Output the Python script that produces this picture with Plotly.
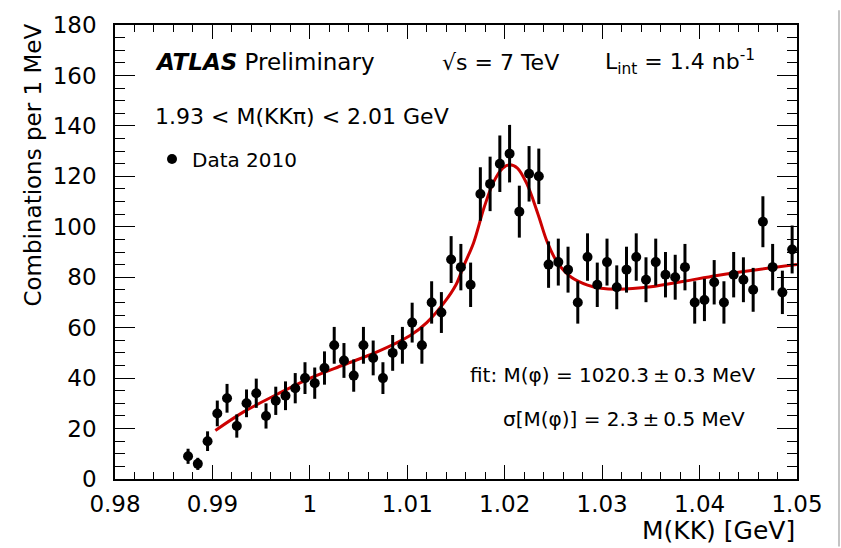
import plotly.graph_objects as go

# ---- data ----
mass_gev = [0.9875, 0.9885, 0.9895, 0.9905, 0.9915, 0.9925, 0.9935, 0.9945, 0.9955, 0.9965,
            0.9975, 0.9985, 0.9995, 1.0005, 1.0015, 1.0025, 1.0035, 1.0045, 1.0055, 1.0065,
            1.0075, 1.0085, 1.0095, 1.0105, 1.0115, 1.0125, 1.0135, 1.0145, 1.0155, 1.0165,
            1.0175, 1.0185, 1.0195, 1.0205, 1.0215, 1.0225, 1.0235, 1.0245, 1.0255, 1.0265,
            1.0275, 1.0285, 1.0295, 1.0305, 1.0315, 1.0325, 1.0335, 1.0345, 1.0355, 1.0365,
            1.0375, 1.0385, 1.0395, 1.0405, 1.0415, 1.0425, 1.0435, 1.0445, 1.0455, 1.0465,
            1.0475, 1.0485, 1.0495]
counts = [9, 6, 15, 26, 32, 21, 30, 34, 25, 31,
          33, 36, 40, 38, 44, 53, 47, 41, 53, 48,
          40, 50, 53, 62, 53, 70, 66, 87, 84, 77,
          113, 117, 125, 129, 106, 121, 120, 85, 86, 83,
          70, 88, 77, 86, 76, 83, 88, 79, 86, 81,
          80, 84, 70, 71, 78, 70, 81, 79, 75, 102,
          84, 74, 91]
count_err = [3.0, 2.4, 3.9, 5.1, 5.7, 4.6, 5.5, 5.8, 5.0, 5.6,
             5.7, 6.0, 6.3, 6.2, 6.6, 7.3, 6.9, 6.4, 7.3, 6.9,
             6.3, 7.1, 7.3, 7.9, 7.3, 8.4, 8.1, 9.3, 9.2, 8.8,
             10.6, 10.8, 11.2, 11.4, 10.3, 11.0, 11.0, 9.2, 9.3, 9.1,
             8.4, 9.4, 8.8, 9.3, 8.7, 9.1, 9.4, 8.9, 9.3, 9.0,
             8.9, 9.2, 8.4, 8.4, 8.8, 8.4, 9.0, 8.9, 8.7, 10.1,
             9.2, 8.6, 9.5]

fit_x = [0.9903, 0.9932, 0.9967, 1.0001, 1.0035, 1.0069, 1.0103, 1.0120, 1.0138, 1.0150,
         1.0158, 1.0168, 1.0179, 1.0189, 1.0198, 1.0205, 1.0213, 1.0223, 1.0234, 1.0244,
         1.0254, 1.0268, 1.0285, 1.0299, 1.0316, 1.0350, 1.0384, 1.0418, 1.0453, 1.0500]
fit_y = [19.2, 26.6, 33.7, 40.1, 45.3, 50.4, 56.9, 62.0, 70.0, 77.0,
         84.6, 93.6, 107.8, 118.1, 123.3, 124.6, 123.3, 116.8, 105.2, 93.6,
         85.9, 80.1, 76.9, 75.6, 75.2, 76.2, 78.4, 80.7, 82.7, 85.0]

x_ticks = [0.98, 0.99, 1.00, 1.01, 1.02, 1.03, 1.04, 1.05]
x_tick_labels = ["0.98", "0.99", "1", "1.01", "1.02", "1.03", "1.04", "1.05"]
y_ticks = [0, 20, 40, 60, 80, 100, 120, 140, 160, 180]

FONT = "DejaVu Sans"
W, H = 841, 548
L, R, T, B = 115, 797, 15, 479


def px(x):
    return (x - L) / (R - L)


def py(y):
    return (B - y) / (B - T)


fig = go.Figure()
fig.add_trace(go.Scatter(
    x=fit_x, y=fit_y, mode="lines", line=dict(color="#cc0000", width=3, shape="spline", smoothing=1.0),
    showlegend=False, hoverinfo="skip"))
fig.add_trace(go.Scatter(
    x=mass_gev, y=counts, mode="markers", name="Data 2010",
    marker=dict(color="black", size=10, symbol="circle"),
    error_y=dict(type="data", array=count_err, visible=True, color="black", thickness=3, width=0)))

axis_common = dict(showgrid=False, zeroline=False, showline=True, linecolor="black", linewidth=1.5,
                   mirror="ticks", ticks="inside", tickcolor="black", tickwidth=1.2,
                   tickfont=dict(family=FONT, size=23, color="black"))

fig.update_xaxes(range=[0.98, 1.05], tickvals=x_ticks, ticktext=x_tick_labels, ticklen=14,
                 ticklabelstandoff=4,
                 minor=dict(dtick=0.002, ticks="inside", ticklen=7, tickcolor="black", tickwidth=1.2),
                 **axis_common)
fig.update_yaxes(range=[0, 180], tickvals=y_ticks, ticklen=20, ticklabelstandoff=12,
                 minor=dict(dtick=5, ticks="inside", ticklen=10, tickcolor="black", tickwidth=1.2),
                 **axis_common)

ann = []


def add_text(text, x, y, size, xanchor="left", yanchor="middle", angle=0):
    ann.append(dict(text=text, x=px(x), y=py(y), xref="paper", yref="paper", showarrow=False,
                    xanchor=xanchor, yanchor=yanchor, textangle=angle,
                    font=dict(family=FONT, size=size, color="black")))


add_text("<b><i>ATLAS</i></b> Preliminary", 153, 53, 23)
add_text("√s = 7 TeV", 440, 53, 22)
add_text("L<sub>int</sub> = 1.4 nb<sup>-1</sup>", 603, 53, 22)
add_text("1.93 &lt; M(KKπ) &lt; 2.01 GeV", 153, 109, 22)
add_text("fit: M(φ) = 1020.3\u2009±\u20090.3 MeV", 758, 373, 20, xanchor="right")
add_text("σ[M(φ)] = 2.3\u2009±\u20090.5 MeV", 747, 418, 20, xanchor="right")
add_text("M(KK) [GeV]", 797, 532, 25, xanchor="right")
add_text("Combinations per 1 MeV", 33, 12, 23, xanchor="center", yanchor="top", angle=-90)

fig.update_layout(
    width=W, height=H,
    margin=dict(l=L, r=W - R, t=T, b=H - B),
    paper_bgcolor="white", plot_bgcolor="white",
    font=dict(family=FONT, color="black"),
    annotations=ann,
    legend=dict(x=px(152), y=py(152), xanchor="left", yanchor="middle", bgcolor="rgba(0,0,0,0)",
                font=dict(family=FONT, size=20, color="black"), itemsizing="trace"),
    shapes=[dict(type="line", xref="paper", yref="paper", x0=px(839), x1=px(839), y0=py(0), y1=py(548),
                 line=dict(color="#b0b0b0", width=1.5))],
)

fig.write_html("out.html", config={"displayModeBar": False},
               post_script="document.body.style.margin='0';document.body.style.overflow='hidden';")
